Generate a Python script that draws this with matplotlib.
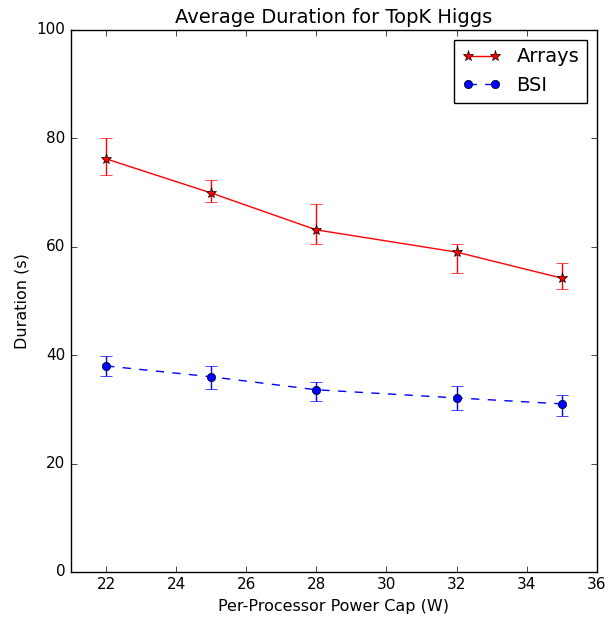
import matplotlib
matplotlib.use('Agg')
import matplotlib.pyplot as plt

plt.style.use('classic')

power_caps = [22, 25, 28, 32, 35]

arrays_mean = [76.2, 69.9, 63.1, 59.0, 54.2]
arrays_lo = [3.0, 1.6, 2.6, 3.8, 2.0]
arrays_hi = [3.9, 2.4, 4.8, 1.5, 2.8]

bsi_mean = [38.0, 36.0, 33.6, 32.1, 31.0]
bsi_lo = [1.8, 2.2, 2.1, 2.2, 2.2]
bsi_hi = [1.9, 2.0, 1.5, 2.2, 1.7]

fig = plt.figure(figsize=(6.12, 6.21), dpi=100)
ax = fig.add_subplot(111)
fig.subplots_adjust(left=0.116, right=0.975, bottom=0.079, top=0.952)

# error bars first, lines drawn on top so the legend shows only the lines
ax.errorbar(power_caps, arrays_mean, yerr=[arrays_lo, arrays_hi], fmt='none',
            ecolor='r', capsize=4)
ax.errorbar(power_caps, bsi_mean, yerr=[bsi_lo, bsi_hi], fmt='none',
            ecolor='b', capsize=4)
ax.plot(power_caps, arrays_mean, 'r*-', markersize=8, label='Arrays')
ax.plot(power_caps, bsi_mean, 'bo--', markersize=6, label='BSI')

ax.set_xlim(21, 36)
ax.set_ylim(0, 100)
ax.set_title('Average Duration for TopK Higgs', fontsize=14)
ax.set_xlabel('Per-Processor Power Cap (W)', fontsize=11.5)
ax.set_ylabel('Duration (s)', fontsize=11.5)
ax.tick_params(labelsize=11)
ax.legend(loc='upper right', fontsize=14, numpoints=2, handlelength=2)

fig.savefig('out.png', dpi=100)
